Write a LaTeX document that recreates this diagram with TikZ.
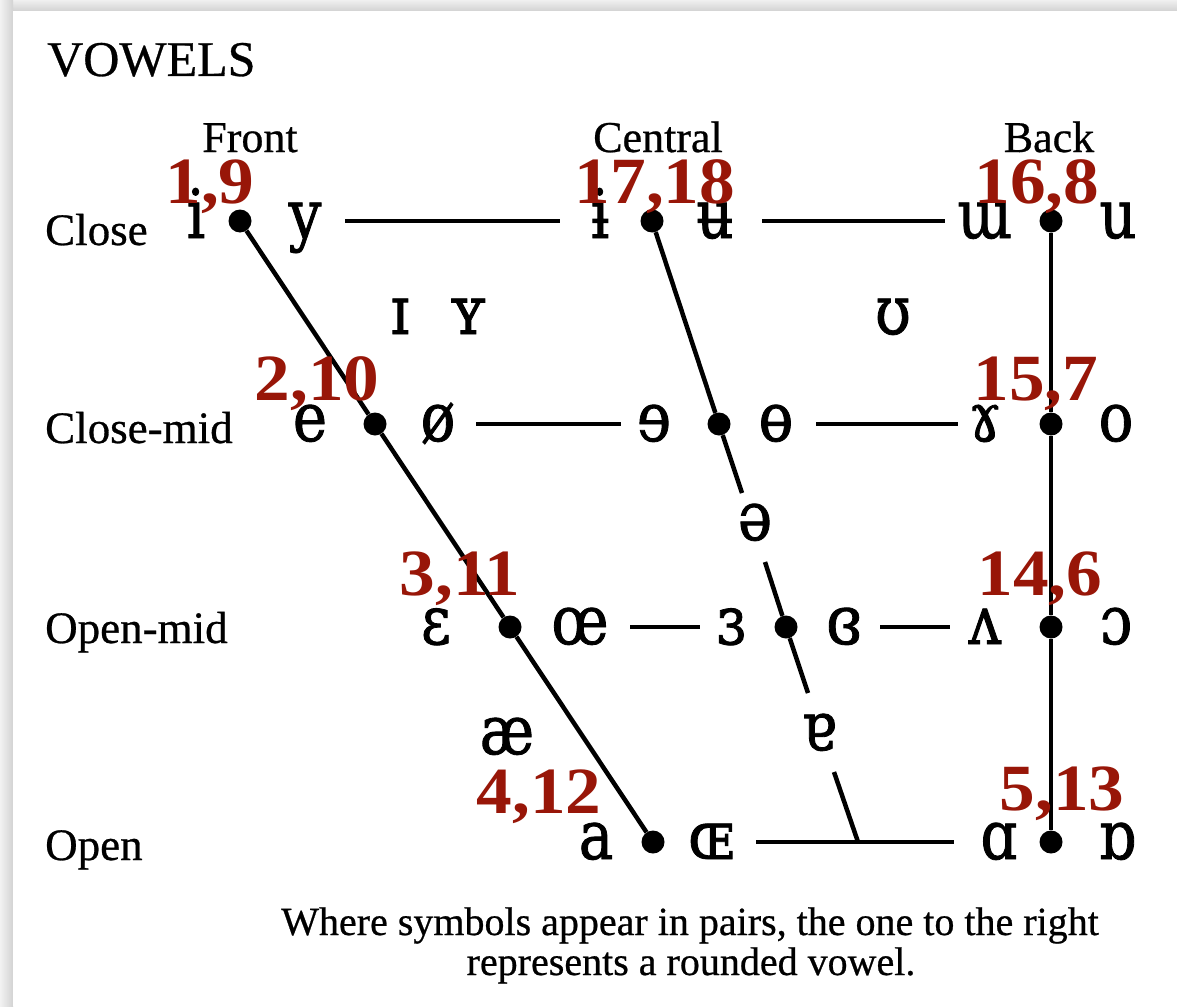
\documentclass[tikz,border=0pt]{standalone}
\usepackage{fontspec}
\setmainfont{Liberation Serif}
\newfontfamily\ipafont[FakeStretch=0.85,FakeBold=1.2]{DejaVu Serif}
\newfontfamily\numfont[FakeStretch=1.08]{Liberation Serif}
\newfontfamily\labfont[FakeBold=0.6]{Liberation Serif}
\definecolor{labelred}{RGB}{152,22,8}
\begin{document}
\begin{tikzpicture}[x=1pt,y=-1pt,
  sym/.style={font=\ipafont\fontsize{68}{68}\selectfont, inner sep=0pt, text height=34pt, text depth=0pt, minimum width=80pt},
  dot/.style={circle, fill=black, draw=none, inner sep=0pt, minimum size=23pt},
  num/.style={font=\numfont\bfseries\fontsize{66}{66}\selectfont, text=labelred, anchor=base, inner sep=0pt},
  lab/.style={font=\labfont\fontsize{45}{45}\selectfont, anchor=base west, inner sep=0pt},
  head/.style={font=\labfont\fontsize{44}{44}\selectfont, anchor=base, inner sep=0pt},
  capt/.style={font=\labfont\fontsize{40}{40}\selectfont, anchor=base, inner sep=0pt},
  conn/.style={line width=4.5pt, black},
  hline/.style={line width=3.5pt, black}]
% background and page shadow
\useasboundingbox (0,0) rectangle (1177,1006);
\fill[white] (0,0) rectangle (1177,1006);
\shade[top color=gray!12, bottom color=gray!35] (0,0) rectangle (1177,11);
\shade[left color=gray!10, right color=gray!35] (0,0) rectangle (13,1006);
\fill[white] (13,11) rectangle (1177,1006);

% titles
\node[font=\labfont\fontsize{50}{50}\selectfont, anchor=base west, inner sep=0pt] (vowels) at (47,76) {VOWELS};
\node[head] (front) at (250,152) {Front};
\node[head] (central) at (658,152) {Central};
\node[head] (back) at (1049,152) {Back};
\node[lab] (close) at (45,245) {Close};
\node[lab] (closemid) at (45,443) {Close-mid};
\node[lab] (openmid) at (45,643) {Open-mid};
\node[lab] (open) at (45,860) {Open};

% vowel symbols
\node[sym] (i) at (196,221) {i};
\node[sym] (y) at (305,221) {y};
\node[sym] (ibar) at (600,221) {ɨ};
\node[sym, minimum width=94pt] (ubar) at (715,221) {ʉ};
\node[sym] (turnm) at (985,221) {ɯ};
\node[sym] (u) at (1118,221) {u};

\node[sym] (e) at (310,424) {e};
\node[sym, minimum width=76pt] (oslash) at (438,424) {ø};
\node[sym, minimum width=66pt] (reve) at (654,424) {ɘ};
\node[sym] (baro) at (776,424) {ɵ};
\node[sym, minimum width=54pt] (ramshorn) at (985,424) {ɤ};
\node[sym] (o) at (1116,424) {o};

\node[sym] (eps) at (436,627) {ɛ};
\node[sym, minimum width=100pt] (oe) at (580,627) {œ};
\node[sym, minimum width=62pt] (reveps) at (731,627) {ɜ};
\node[sym, minimum width=72pt] (creveps) at (844,627) {ɞ};
\node[sym, minimum width=70pt] (turnv) at (985,627) {ʌ};
\node[sym] (openo) at (1116,627) {ɔ};

\node[sym] (a) at (596,842) {a};
\node[sym, minimum width=90pt] (OE) at (711,842) {ɶ};
\node[sym, minimum width=90pt] (alpha) at (999,842) {ɑ};
\node[sym] (turnalpha) at (1117,842) {ɒ};

\node[sym] (smi) at (400,317) {ɪ};
\node[sym] (smy) at (468,317) {ʏ};
\node[sym] (upsilon) at (893,317) {ʊ};
\node[sym] (schwa) at (755,523) {ə};
\node[sym] (ae) at (507,737) {æ};
\node[sym] (turna) at (819,733) {ɐ};

% dots
\node[dot] (fd1) at (240,221) {};
\node[dot] (fd2) at (375,424) {};
\node[dot] (fd3) at (510,627) {};
\node[dot] (fd4) at (653,842) {};
\node[dot] (cd1) at (652,221) {};
\node[dot] (cd2) at (719,424) {};
\node[dot] (cd3) at (786,627) {};
\node[dot] (bd1) at (1051,221) {};
\node[dot] (bd2) at (1051,424) {};
\node[dot] (bd3) at (1051,627) {};
\node[dot] (bd4) at (1051,842) {};
\coordinate (cg1) at (742,493);
\coordinate (cg2) at (765,562);
\coordinate (cg3) at (808,693);
\coordinate (cg4) at (834,772);
\coordinate (cend) at (858,842);

% connectors
\draw[conn] (fd1) -- (fd2) -- (fd3) -- (fd4);
\draw[conn] (cd1) -- (cd2) -- (cg1);
\draw[conn] (cg2) -- (cd3) -- (cg3);
\draw[conn] (cg4) -- (cend);
\draw[hline] (bd1) -- (bd2) -- (bd3) -- (bd4);
\draw[hline] (y) -- (ibar);
\draw[hline] (ubar) -- (turnm);
\draw[hline] (oslash) -- (reve);
\draw[hline] (baro) -- (ramshorn);
\draw[hline] (oe) -- (reveps);
\draw[hline] (creveps) -- (turnv);
\draw[hline] (OE) -- (alpha);

% red numbers
\node[num] (n1) at (210,203) {1,9};
\node[num] (n2) at (655,203) {17,18};
\node[num] (n3) at (1037,203) {16,8};
\node[num] (n4) at (317,400) {2,10};
\node[num] (n5) at (1036,400) {15,7};
\node[num] (n6) at (460,595) {3,11};
\node[num] (n7) at (1040,595) {14,6};
\node[num] (n8) at (539,813) {4,12};
\node[num] (n9) at (1062,810) {5,13};

% caption
\node[capt] (cap1) at (690,935) {Where symbols appear in pairs, the one to the right};
\node[capt] (cap2) at (691,975) {represents a rounded vowel.};
\end{tikzpicture}
\end{document}
